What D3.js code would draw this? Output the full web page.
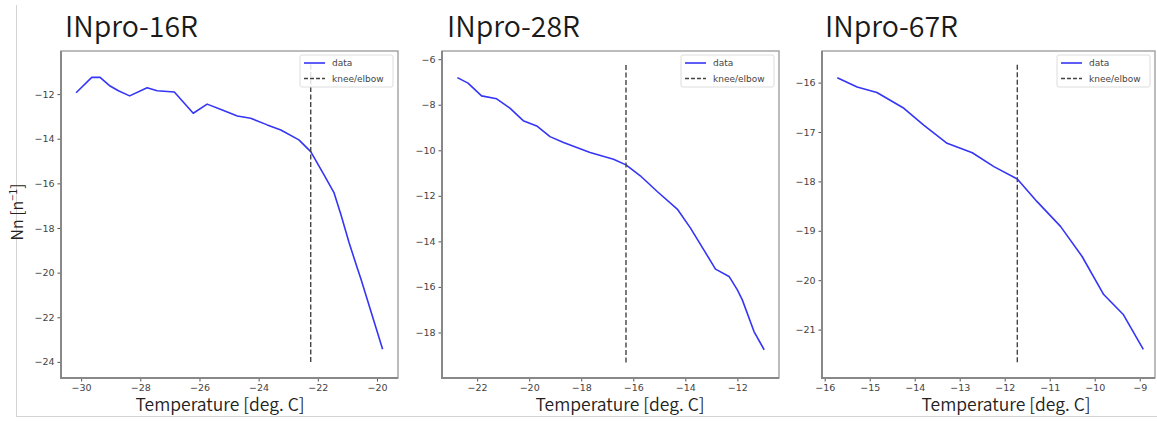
<!DOCTYPE html>
<html>
<head>
<meta charset="utf-8">
<script src="https://cdn.jsdelivr.net/npm/d3@7"></script>
<style>
    body { margin: 0; background: #fff; }
    svg { display: block; }
</style>
</head>
<body>
<div class="chart-container"></div>
<script>
// --- Data ---
const panelNames = ["INpro-16R", "INpro-28R", "INpro-67R"];

const temp16 = [-30.17, -29.64, -29.36, -29.02, -28.74, -28.36, -27.77, -27.43, -26.85, -26.21, -25.74, -25.23, -24.72, -24.27, -23.71, -23.25, -22.64, -22.24, -21.79, -21.45, -21.22, -20.94, -20.65, -20.54, -19.81];
const nn16   = [-11.94, -11.25, -11.25, -11.64, -11.85, -12.08, -11.72, -11.85, -11.91, -12.86, -12.45, -12.71, -12.98, -13.08, -13.38, -13.61, -14.05, -14.58, -15.62, -16.43, -17.40, -18.67, -19.86, -20.30, -23.43];

const temp28 = [-22.76, -22.35, -21.83, -21.25, -20.74, -20.23, -19.71, -19.20, -18.68, -17.66, -16.76, -16.28, -15.73, -15.08, -14.31, -13.80, -13.29, -12.84, -12.32, -12.00, -11.81, -11.36, -10.97];
const nn28   = [-6.81, -7.05, -7.61, -7.74, -8.15, -8.70, -8.93, -9.40, -9.66, -10.10, -10.39, -10.64, -11.12, -11.81, -12.58, -13.42, -14.37, -15.22, -15.54, -16.13, -16.57, -17.96, -18.76];

const temp67 = [-15.72, -15.28, -14.84, -14.24, -13.80, -13.28, -12.72, -12.24, -11.72, -11.28, -10.76, -10.28, -9.80, -9.36, -8.92];
const nn67   = [-15.90, -16.09, -16.20, -16.52, -16.86, -17.23, -17.42, -17.70, -17.95, -18.41, -18.91, -19.52, -20.29, -20.70, -21.40];

// knee/elbow temperature and the y span of the dashed line
const kneeTemps = [-22.24, -16.28, -11.72];
const kneeSpans = [[-24.0, -10.66], [-19.32, -6.21], [-21.66, -15.62]];

// axis ranges and tick values
const xDomains = [[-30.68, -19.29], [-23.35, -10.40], [-16.06, -8.66]];
const yDomains = [[-24.72, -10.07], [-20.0, -5.64], [-21.98, -15.36]];
const xTicks = [[-30, -28, -26, -24, -22, -20], [-22, -20, -18, -16, -14, -12], [-16, -15, -14, -13, -12, -11, -10, -9]];
const yTicks = [[-24, -22, -20, -18, -16, -14, -12], [-18, -16, -14, -12, -10, -8, -6], [-21, -20, -19, -18, -17, -16]];

const legendLabels = ["data", "knee/elbow"];
const xLabel = "Temperature [deg. C]";

// --- Layout ---
const W = 1157, H = 423;
const plotTop = 51, plotBottom = 378;
const panels = [
    { left: 61,  right: 398,  titleX: 65,  labelX: 220 },
    { left: 442, right: 779,  titleX: 447, labelX: 620 },
    { left: 822, right: 1155, titleX: 825, labelX: 1006 }
];
const series = [[temp16, nn16], [temp28, nn28], [temp67, nn67]];

const lineColor = "#3535f5";
const kneeColor = "#444";
const textFont = "'Noto Sans CJK JP', 'Noto Sans', sans-serif";
const tickFont = "'DejaVu Sans', sans-serif";
const fmt = d3.format("d");

const svg = d3.select(".chart-container").append("svg")
    .attr("width", W)
    .attr("height", H);

// outer light frame of the figure
svg.append("line").attr("x1", 16.5).attr("x2", 16.5).attr("y1", 5).attr("y2", 416.5)
    .attr("stroke", "#d4d4d4");
svg.append("line").attr("x1", 16).attr("x2", W).attr("y1", 416.5).attr("y2", 416.5)
    .attr("stroke", "#d4d4d4");

panels.forEach((p, i) => {
    const x = d3.scaleLinear().domain(xDomains[i]).range([p.left, p.right]);
    const y = d3.scaleLinear().domain(yDomains[i]).range([plotBottom, plotTop]);
    const g = svg.append("g").attr("class", "panel");

    // title
    g.append("text")
        .attr("x", p.titleX)
        .attr("y", 37)
        .style("font-family", textFont)
        .style("font-size", "28.5px")
        .style("font-weight", 350)
        .attr("fill", "#1a1a1a")
        .text(panelNames[i]);

    // data line
    const pts = d3.zip(series[i][0], series[i][1]);
    g.append("path")
        .datum(pts)
        .attr("fill", "none")
        .attr("stroke", lineColor)
        .attr("stroke-width", 1.6)
        .attr("stroke-linejoin", "round")
        .attr("d", d3.line().x(d => x(d[0])).y(d => y(d[1])));

    // knee line
    g.append("line")
        .attr("x1", x(kneeTemps[i])).attr("x2", x(kneeTemps[i]))
        .attr("y1", y(kneeSpans[i][0])).attr("y2", y(kneeSpans[i][1]))
        .attr("stroke", kneeColor)
        .attr("stroke-width", 1.4)
        .attr("stroke-dasharray", "5,2.5");

    // axes
    const xAxis = g.append("g")
        .attr("transform", `translate(0,${plotBottom})`)
        .call(d3.axisBottom(x).tickValues(xTicks[i]).tickFormat(fmt).tickSize(3.5).tickPadding(3));
    const yAxis = g.append("g")
        .attr("transform", `translate(${p.left},0)`)
        .call(d3.axisLeft(y).tickValues(yTicks[i]).tickFormat(fmt).tickSize(3.5).tickPadding(3));
    [xAxis, yAxis].forEach(a => {
        a.select(".domain").remove();
        a.selectAll(".tick line").attr("stroke", "#555");
        a.selectAll(".tick text")
            .attr("fill", "#444")
            .style("font-family", tickFont)
            .style("font-size", "9.5px");
    });

    // frame
    g.append("rect")
        .attr("x", p.left).attr("y", plotTop)
        .attr("width", p.right - p.left).attr("height", plotBottom - plotTop)
        .attr("fill", "none")
        .attr("stroke", "#999")
        .attr("stroke-width", 1.3);
    g.append("path")
        .attr("d", `M${p.left},${plotTop}V${plotBottom}H${p.right}`)
        .attr("fill", "none")
        .attr("stroke", "#888")
        .attr("stroke-width", 2);

    // legend
    const lw = 93, lh = 32;
    const lg = g.append("g")
        .attr("transform", `translate(${p.right - lw - 5},${plotTop + 4})`);
    lg.append("rect")
        .attr("width", lw).attr("height", lh)
        .attr("rx", 2)
        .attr("fill", "#fff").attr("fill-opacity", 0.85)
        .attr("stroke", "#ddd");
    legendLabels.forEach((lab, k) => {
        const yy = 8 + k * 15.5;
        lg.append("line")
            .attr("x1", 4).attr("x2", 25).attr("y1", yy).attr("y2", yy)
            .attr("stroke", k === 0 ? lineColor : kneeColor)
            .attr("stroke-width", 1.6)
            .attr("stroke-dasharray", k === 0 ? null : "4,2");
        lg.append("text")
            .attr("x", 32).attr("y", yy + 3.3)
            .style("font-family", tickFont)
            .style("font-size", "9px")
            .attr("fill", "#444")
            .text(lab);
    });

    // x label
    g.append("text")
        .attr("x", p.labelX)
        .attr("y", 411)
        .attr("text-anchor", "middle")
        .style("font-family", textFont)
        .style("font-size", "17.5px")
        .style("font-weight", 350)
        .attr("fill", "#222")
        .text(xLabel);
});

// y label (first panel only)
const yl = svg.append("text")
    .attr("transform", "translate(23,212) rotate(-90)")
    .attr("text-anchor", "middle")
    .style("font-family", textFont)
    .style("font-size", "16px")
    .style("font-weight", 350)
    .attr("fill", "#222");
yl.append("tspan").text("Nn [n");
yl.append("tspan").attr("dy", -6).style("font-size", "11px").text("−1");
yl.append("tspan").attr("dy", 6).text("]");
</script>
</body>
</html>
